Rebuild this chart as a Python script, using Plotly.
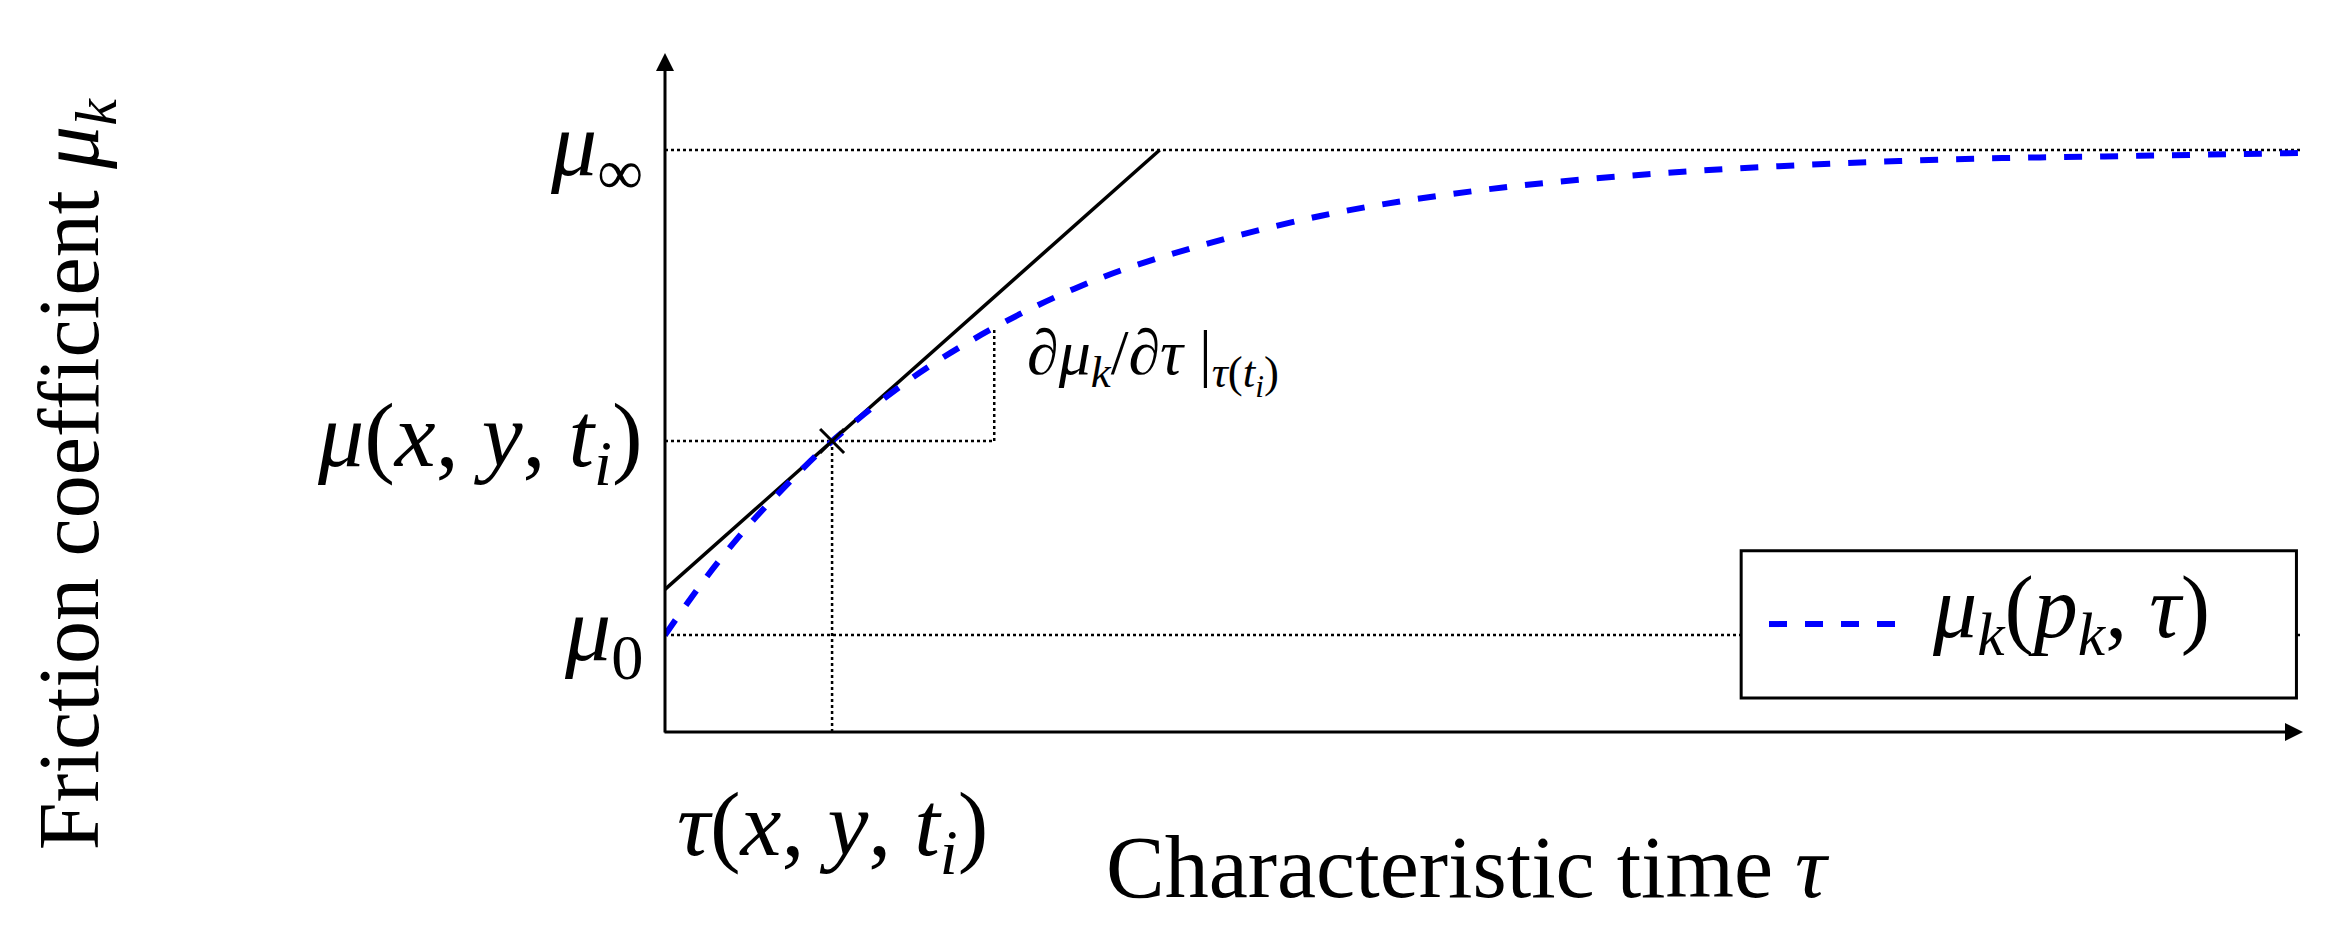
import plotly.graph_objects as go

tau = [0, 0.25, 0.5, 0.75, 1, 1.5, 2, 2.5, 3, 4, 5, 6, 7, 8, 9, 10]
mu = [1.0, 1.59, 2.11, 2.56, 2.97, 3.64, 4.16, 4.57, 4.88, 5.32, 5.59, 5.75, 5.85, 5.91, 5.94, 5.97]
tan_x = [0, 3.02]
tan_y = [1.47, 6.0]
mu0, mu_inf, mu_i, tau_i = 1.0, 6.0, 3.0, 1.02
tri_x, tri_top = 2.01, 4.17

F = "Liberation Serif"
fig = go.Figure()
dot = dict(color="black", width=2.5, dash="dot")
for xs, ys in [([0, 10], [mu_inf, mu_inf]), ([0, 10], [mu0, mu0]),
               ([0, tri_x], [mu_i, mu_i]), ([tau_i, tau_i], [0, mu_i]),
               ([tri_x, tri_x], [mu_i, tri_top])]:
    fig.add_trace(go.Scatter(x=xs, y=ys, mode="lines", line=dot, showlegend=False))
fig.add_trace(go.Scatter(x=tan_x, y=tan_y, mode="lines", line=dict(color="black", width=3.5), showlegend=False))
fig.add_trace(go.Scatter(x=tau, y=mu, mode="lines", line=dict(color="blue", width=6, dash="dash", shape="spline"), showlegend=False))
fig.add_trace(go.Scatter(x=[tau_i], y=[mu_i], mode="markers", marker=dict(symbol="x-thin", size=24, line=dict(color="black", width=3)), showlegend=False))

# legend box
fig.add_shape(type="rect", xref="paper", yref="paper", x0=0.657, x1=0.996, y0=0.05, y1=0.267,
              line=dict(color="black", width=3), fillcolor="white", layer="above")
fig.add_shape(type="line", xref="paper", yref="paper", x0=0.674, x1=0.757, y0=0.159, y1=0.159,
              line=dict(color="blue", width=6, dash="dash"), layer="above")
fig.add_annotation(xref="paper", yref="paper", x=0.772, y=0.175, xanchor="left", yanchor="middle", showarrow=False,
                   text="<i>μ<sub>k</sub></i>(<i>p<sub>k</sub></i>, <i>τ</i>)", font=dict(family=F, size=88, color="black"))

# axes arrows
fig.add_annotation(xref="paper", yref="y", x=1.0, y=0, axref="pixel", ayref="pixel", ax=-1640, ay=0,
                   showarrow=True, arrowhead=2, arrowsize=1.2, arrowwidth=3, arrowcolor="black", text="")
fig.add_annotation(xref="x", yref="paper", x=0, y=1.0, axref="pixel", ayref="pixel", ax=0, ay=681,
                   showarrow=True, arrowhead=2, arrowsize=1.2, arrowwidth=3, arrowcolor="black", text="")

lab = dict(family=F, size=92, color="black")
for yv, t in [(mu_inf, "<i>μ</i><sub>∞</sub>"), (mu_i, "<i>μ</i>(<i>x</i>, <i>y</i>, <i>t<sub>i</sub></i>)"), (mu0, "<i>μ</i><sub>0</sub>")]:
    fig.add_annotation(xref="paper", yref="y", x=-0.012, y=yv, xanchor="right", yanchor="middle", showarrow=False, text=t, font=lab)
fig.add_annotation(xref="x", yref="paper", x=tau_i, y=-0.145, yanchor="middle", showarrow=False,
                   text="<i>τ</i>(<i>x</i>, <i>y</i>, <i>t<sub>i</sub></i>)", font=lab)
fig.add_annotation(xref="x", yref="y", x=2.2, y=3.83, xanchor="left", yanchor="middle", showarrow=False,
                   text="∂<i>μ<sub>k</sub></i>/∂<i>τ</i> |<sub><i>τ</i>(<i>t<sub>i</sub></i>)</sub>",
                   font=dict(family=F, size=64, color="black"))
fig.add_annotation(xref="paper", yref="paper", x=0.49, y=-0.2, yanchor="middle", showarrow=False,
                   text="Characteristic time <i>τ</i>", font=dict(family=F, size=88, color="black"))
fig.add_annotation(xref="paper", yref="paper", x=-0.36, y=0.38, xanchor="center", yanchor="middle", textangle=-90, showarrow=False,
                   text="Friction coefficient <i>μ<sub>k</sub></i>", font=dict(family=F, size=86, color="black"))

fig.update_xaxes(range=[0, 10], visible=False)
fig.update_yaxes(range=[0, 7], visible=False)
fig.update_layout(width=2326, height=926, margin=dict(l=657, r=31, t=45, b=202),
                  plot_bgcolor="white", paper_bgcolor="white")
fig.write_html("out.html")
